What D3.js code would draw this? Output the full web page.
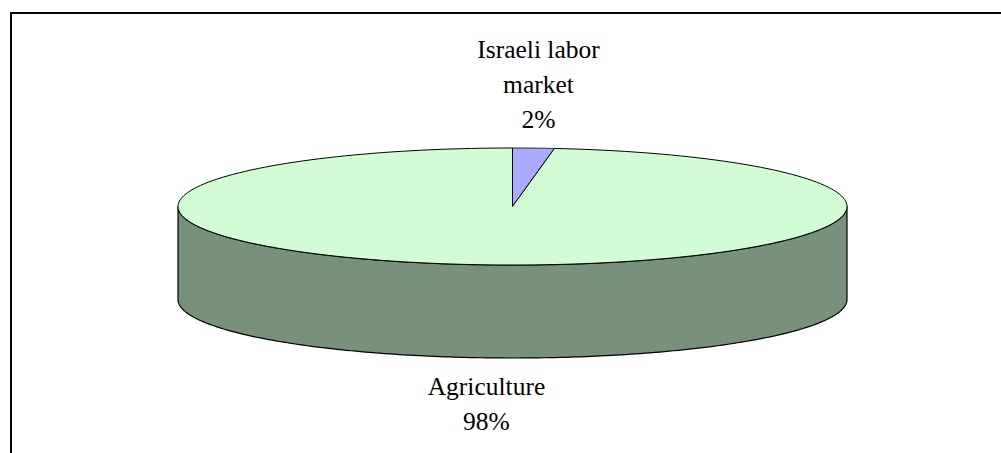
<!DOCTYPE html>
<html>
<head>
<meta charset="utf-8">
<script src="https://cdn.jsdelivr.net/npm/d3@7"></script>
<style>
  html, body { margin: 0; padding: 0; background: #fff; }
  svg { display: block; }
</style>
</head>
<body>
<svg id="chart" width="1001" height="453"></svg>
<script>
// ---- data ----
const categories = ["Israeli labor market", "Agriculture"];
const values = [2, 98];
const labelLines = [["Israeli labor", "market", "2%"], ["Agriculture", "98%"]];
const topColors = ["#aaaaff", "#d2fcd3"];
const sideColors = ["#7c7cbe", "#77917a"];

// ---- layout ----
const W = 1001, H = 453;
const cx = 512.5, cy = 206.5, rx = 334.5, ry = 58.5, depth = 93;

const svg = d3.select("#chart");

// outer frame
svg.append("rect")
  .attr("x", 11).attr("y", 13)
  .attr("width", 1100).attr("height", 600)
  .attr("fill", "#fff").attr("stroke", "#000").attr("stroke-width", 2);

const pie = d3.pie().sort(null).value(d => d)
  .startAngle(0).endAngle(2 * Math.PI);
const arcs = pie(values);

// project an angle (clockwise from 12 o'clock) onto the ellipse
const px = (a, r = rx) => cx + r * Math.sin(a);
const py = (a, r = ry, dy = 0) => cy - r * Math.cos(a) + dy;

// ellipse-arc path between angles on top (dy=0) level, sampled
function ellipsePoints(a0, a1, dy, n = 200) {
  const pts = [];
  for (let i = 0; i <= n; i++) {
    const a = a0 + (a1 - a0) * i / n;
    pts.push([px(a), py(a, ry, dy)]);
  }
  return pts;
}
const line = d3.line();

// side walls: visible part of each slice between angles PI/2 and 3PI/2
const g = svg.append("g");
arcs.forEach((d, i) => {
  const a0 = Math.max(d.startAngle, Math.PI / 2);
  const a1 = Math.min(d.endAngle, 3 * Math.PI / 2);
  if (a1 <= a0) return;
  const topPts = ellipsePoints(a0, a1, 0);
  const botPts = ellipsePoints(a1, a0, depth);
  g.append("path")
    .attr("d", line(topPts.concat(botPts)) + "Z")
    .attr("fill", sideColors[i])
    .attr("stroke", "#000").attr("stroke-width", 1.2)
    .attr("stroke-linejoin", "round");
});

// top faces
arcs.forEach((d, i) => {
  const pts = [[cx, cy]].concat(ellipsePoints(d.startAngle, d.endAngle, 0));
  g.append("path")
    .attr("d", line(pts) + "Z")
    .attr("fill", topColors[i])
    .attr("stroke", "#000").attr("stroke-width", 1)
    .attr("stroke-linejoin", "round");
});

// labels
const labelR = rx + 80;
const labelBaselines = [[58, 93, 128], [395, 430]];
arcs.forEach((d, i) => {
  const mid = (d.startAngle + d.endAngle) / 2;
  const x = px(mid, labelR);
  const t = svg.append("text")
    .attr("text-anchor", "middle")
    .attr("font-family", "'Liberation Serif', 'Times New Roman', serif")
    .attr("font-size", 25.5)
    .attr("fill", "#000");
  labelLines[i].forEach((s, j) => {
    t.append("tspan").attr("x", x).attr("y", labelBaselines[i][j]).text(s);
  });
});
</script>
</body>
</html>
